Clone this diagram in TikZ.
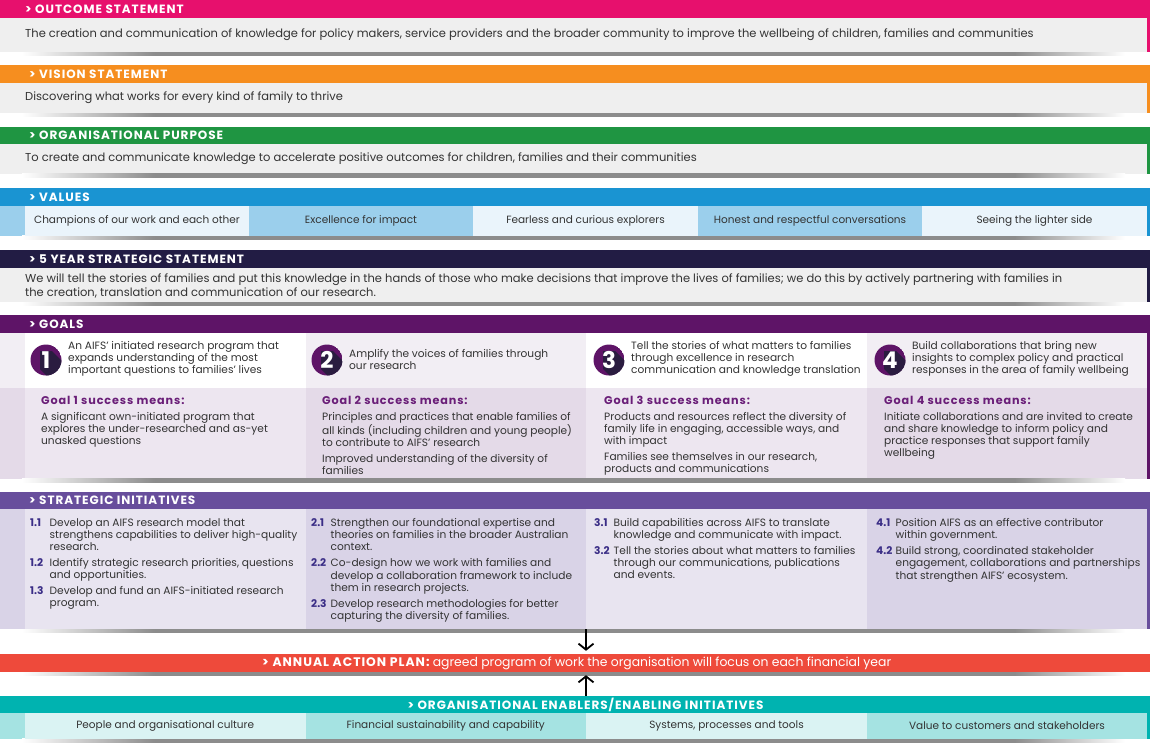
\documentclass[tikz,border=0pt]{standalone}
\usepackage{fontspec}
\setmainfont{Poppins}
\newfontfamily\hdrfont[LetterSpace=8]{Poppins}
\usetikzlibrary{positioning,arrows.meta}

\definecolor{outcomecol}{HTML}{E7106D}
\definecolor{visioncol}{HTML}{F68E1F}
\definecolor{purposecol}{HTML}{1F9542}
\definecolor{valuescol}{HTML}{1A94D2}
\definecolor{strategycol}{HTML}{221C44}
\definecolor{goalscol}{HTML}{5E1467}
\definecolor{initcol}{HTML}{684E9C}
\definecolor{plancol}{HTML}{EE4A3B}
\definecolor{enablecol}{HTML}{00B3B0}
\definecolor{boxgray}{HTML}{EFEFEF}
\definecolor{valdark}{HTML}{9BCFEC}
\definecolor{valpale}{HTML}{EAF4FB}
\definecolor{goaltop}{HTML}{F2EEF4}
\definecolor{goalmid}{HTML}{E4DAE8}
\definecolor{goalpale}{HTML}{EDE6F0}
\definecolor{initdark}{HTML}{D9D3E7}
\definecolor{initpale}{HTML}{E8E4F0}
\definecolor{enbmid}{HTML}{A5E3E2}
\definecolor{enbpale}{HTML}{DAF3F3}
\definecolor{txtgray}{HTML}{333333}
\definecolor{numblue}{HTML}{3A2D86}
\definecolor{succpurple}{HTML}{6A1E78}
\definecolor{badgeshade}{HTML}{2A1C40}

\pgfdeclarehorizontalshading{boxshadow}{100bp}{color(0bp)=(white); color(25bp)=(white);
  color(31bp)=(black!45); color(70bp)=(black!45); color(75bp)=(white); color(100bp)=(white)}

\newcommand{\bodyfont}{\fontsize{11.5}{14}\selectfont}
\newcommand{\smallfont}{\fontsize{10.6}{12}\selectfont}
\newcommand{\sinum}[1]{\makebox[19.5pt][l]{\textcolor{numblue}{\bfseries #1}}}
\newcommand{\siindent}{\hspace*{19.5pt}}
\newcommand{\succhead}[1]{\textcolor{succpurple}{\hdrfont\bfseries\fontsize{11.2}{12}\selectfont #1}}

\begin{document}
\begin{tikzpicture}[x=1pt,y=-1pt,
        hdr/.style={anchor=west, inner sep=0pt, text=white,
                    font=\hdrfont\bfseries\fontsize{12}{14}\selectfont},
        body/.style={anchor=west, inner sep=0pt, text=txtgray, font=\bodyfont},
        goaltext/.style={anchor=west, inner sep=0pt, text=txtgray, align=left, font=\smallfont},
        success/.style={anchor=north west, inner sep=0pt, text=txtgray, align=left, font=\smallfont},
        initlist/.style={anchor=north west, inner sep=0pt, text=txtgray, align=left,
                         font=\fontsize{10.6}{12.3}\selectfont},
        cell/.style={inner sep=0pt, text=txtgray, font=\fontsize{10.5}{12}\selectfont},
        badgenum/.style={inner sep=0pt, text=white, font=\bfseries\fontsize{23}{23}\selectfont},
        arrow/.style={-{Straight Barb[length=6pt,width=15pt]}, line width=1.8pt, shorten >=3pt}
    ]
    \useasboundingbox (0,0) rectangle (1150,747);

    % Outcome statement
    \fill[outcomecol] (0,0) rectangle (1149.5,52);
    \fill[boxgray] (0,18) rectangle (1147,52);
    \shade[shading=boxshadow] (22,52) rectangle (1125,55.5);
    \node[hdr] (outhdr) at (25,9) {> OUTCOME STATEMENT};
    \node[body] (outtxt) at (25,35) {The creation and communication of knowledge for policy makers, service providers and the broader community to improve the wellbeing of children, families and communities};

    % Vision statement
    \fill[visioncol] (0,65) rectangle (1149.5,113);
    \fill[boxgray] (0,83) rectangle (1147,113);
    \shade[shading=boxshadow] (22,113) rectangle (1125,116.5);
    \node[hdr] (vishdr) at (29,74) {> VISION STATEMENT};
    \node[body] (vistxt) at (25,98) {Discovering what works for every kind of family to thrive};

    % Organisational purpose
    \fill[purposecol] (0,126.5) rectangle (1149.5,173.5);
    \fill[boxgray] (0,144) rectangle (1147,173.5);
    \shade[shading=boxshadow] (22,173.5) rectangle (1125,177);
    \node[hdr] (purhdr) at (29,135.5) {> ORGANISATIONAL PURPOSE};
    \node[body] (purtxt) at (25,159) {To create and communicate knowledge to accelerate positive outcomes for children, families and their communities};

    % Values
    \fill[valuescol] (0,188) rectangle (1149.5,235.5);
    \fill[valdark] (0,205.5) rectangle (1147,235.5);
    \shade[shading=boxshadow] (22,235.5) rectangle (1125,239);
    \node[hdr] (valhdr) at (29,197) {> VALUES};
    \node[cell, fill=valpale, minimum width=224, minimum height=30] (val1) at (137,220.5) {Champions of our work and each other};
    \node[cell, fill=valdark, minimum width=224, minimum height=30] (val2) at (361,220.5) {Excellence for impact};
    \node[cell, fill=valpale, minimum width=225, minimum height=30] (val3) at (585.5,220.5) {Fearless and curious explorers};
    \node[cell, fill=valdark, minimum width=224, minimum height=30] (val4) at (810,220.5) {Honest and respectful conversations};
    \node[cell, fill=valpale, minimum width=225, minimum height=30] (val5) at (1034.5,220.5) {Seeing the lighter side};

    % 5 year strategic statement
    \fill[strategycol] (0,249.5) rectangle (1149.5,302);
    \fill[boxgray] (0,268) rectangle (1147,302);
    \shade[shading=boxshadow] (22,302) rectangle (1125,305.5);
    \node[hdr] (strhdr) at (29,259) {> 5 YEAR STRATEGIC STATEMENT};
    \node[body, align=left] (strtxt) at (25,285.5) {We will tell the stories of families and put this knowledge in the hands of those who make decisions that improve the lives of families; we do this by actively partnering with families in\\the creation, translation and communication of our research.};

    % Goals
    \fill[goalscol] (0,315) rectangle (1149.5,478.5);
    \fill[goaltop] (0,333) rectangle (1147,388);
    \fill[white] (25,333) rectangle (305.5,388);
    \fill[white] (586,333) rectangle (867,388);
    \fill[goalmid] (0,388) rectangle (1147,478.5);
    \fill[goalpale] (25,388) rectangle (305.5,478.5);
    \fill[goalpale] (586,388) rectangle (867,478.5);
    \shade[shading=boxshadow] (22,478.5) rectangle (1125,482);
    \node[hdr] (goalhdr) at (29,324) {> GOALS};

    % Numbered badges
    \begin{scope}
        \clip (46,360) circle[radius=15.5];
        \fill[goalscol] (46,360) circle[radius=15.5];
        \fill[badgeshade] (40,351) -- (52,351) -- (82,381) -- (82,399) -- (70,399) -- (40,369) -- cycle;
    \end{scope}
    \node[badgenum] (badge1) at (46,360) {1};
    \begin{scope}
        \clip (327,360) circle[radius=15.5];
        \fill[goalscol] (327,360) circle[radius=15.5];
        \fill[badgeshade] (321,351) -- (333,351) -- (363,381) -- (363,399) -- (351,399) -- (321,369) -- cycle;
    \end{scope}
    \node[badgenum] (badge2) at (327,360) {2};
    \begin{scope}
        \clip (609,360) circle[radius=15.5];
        \fill[goalscol] (609,360) circle[radius=15.5];
        \fill[badgeshade] (603,351) -- (615,351) -- (645,381) -- (645,399) -- (633,399) -- (603,369) -- cycle;
    \end{scope}
    \node[badgenum] (badge3) at (609,360) {3};
    \begin{scope}
        \clip (890,360) circle[radius=15.5];
        \fill[goalscol] (890,360) circle[radius=15.5];
        \fill[badgeshade] (884,351) -- (896,351) -- (926,381) -- (926,399) -- (914,399) -- (884,369) -- cycle;
    \end{scope}
    \node[badgenum] (badge4) at (890,360) {4};

    % Goal statements
    \node[goaltext] (goal1) at (68,358.5) {An AIFS’ initiated research program that\\expands understanding of the most\\important questions to families’ lives};
    \node[goaltext] (goal2) at (349,359) {Amplify the voices of families through\\our research};
    \node[goaltext] (goal3) at (631,359) {Tell the stories of what matters to families\\through excellence in research\\communication and knowledge translation};
    \node[goaltext] (goal4) at (912,359) {Build collaborations that bring new\\insights to complex policy and practical\\responses in the area of family wellbeing};

    % Success measures
    \node[success] (succ1) at (41,396) {\succhead{Goal 1 success means:}\\[4pt]A significant own-initiated program that\\explores the under-researched and as-yet\\unasked questions};
    \node[success] (succ2) at (322,396) {\succhead{Goal 2 success means:}\\[4pt]Principles and practices that enable families of\\all kinds (including children and young people)\\to contribute to AIFS’ research\\[4pt]Improved understanding of the diversity of\\families};
    \node[success] (succ3) at (604,396) {\succhead{Goal 3 success means:}\\[4pt]Products and resources reflect the diversity of\\family life in engaging, accessible ways, and\\with impact\\[4pt]Families see themselves in our research,\\products and communications};
    \node[success] (succ4) at (884,396) {\succhead{Goal 4 success means:}\\[4pt]Initiate collaborations and are invited to create\\and share knowledge to inform policy and\\practice responses that support family\\wellbeing};

    % Strategic initiatives
    \fill[initcol] (0,491.5) rectangle (1149.5,629);
    \fill[initdark] (0,509) rectangle (1147,629);
    \fill[initpale] (25,509) rectangle (305.5,629);
    \fill[initpale] (586,509) rectangle (867,629);
    \shade[shading=boxshadow] (22,629) rectangle (1125,632.5);
    \node[hdr] (inithdr) at (29,500) {> STRATEGIC INITIATIVES};
    \node[initlist] (init1) at (30,518) {\sinum{1.1}Develop an AIFS research model that\\\siindent strengthens capabilities to deliver high-quality\\\siindent research.\\[3.5pt]\sinum{1.2}Identify strategic research priorities, questions\\\siindent and opportunities.\\[3.5pt]\sinum{1.3}Develop and fund an AIFS-initiated research\\\siindent program.};
    \node[initlist] (init2) at (311,518) {\sinum{2.1}Strengthen our foundational expertise and\\\siindent theories on families in the broader Australian\\\siindent context.\\[3.5pt]\sinum{2.2}Co-design how we work with families and\\\siindent develop a collaboration framework to include\\\siindent them in research projects.\\[3.5pt]\sinum{2.3}Develop research methodologies for better\\\siindent capturing the diversity of families.};
    \node[initlist] (init3) at (594,518) {\sinum{3.1}Build capabilities across AIFS to translate\\\siindent knowledge and communicate with impact.\\[3.5pt]\sinum{3.2}Tell the stories about what matters to families\\\siindent through our communications, publications\\\siindent and events.};
    \node[initlist] (init4) at (876,518) {\sinum{4.1}Position AIFS as an effective contributor\\\siindent within government.\\[3.5pt]\sinum{4.2}Build strong, coordinated stakeholder\\\siindent engagement, collaborations and partnerships\\\siindent that strengthen AIFS’ ecosystem.};

    % Annual action plan
    \node[fill=plancol, inner sep=0pt, minimum width=1149.5, minimum height=18] (plan) at (574.75,663) {};
    \shade[shading=boxshadow] (22,672) rectangle (1125,675);
    \node[anchor=west, inner sep=0pt, text=white, font=\fontsize{12.4}{14}\selectfont] (plantxt) at (262,663) {{\hdrfont\bfseries > ANNUAL ACTION PLAN:} agreed program of work the organisation will focus on each financial year};

    % Organisational enablers
    \fill[enablecol] (0,695.5) rectangle (1149.5,738.5);
    \fill[enbmid] (0,713) rectangle (1147,738.5);
    \shade[shading=boxshadow] (22,738.5) rectangle (1125,742);
    \node[hdr, anchor=center] (enbhdr) at (585.5,704.5) {> ORGANISATIONAL ENABLERS/ENABLING INITIATIVES};
    \node[cell, fill=enbpale, minimum width=280.5, minimum height=25.5] (enb1) at (165.25,725.75) {People and organisational culture};
    \node[cell, fill=enbmid, minimum width=280.5, minimum height=25.5] (enb2) at (445.75,725.75) {Financial sustainability and capability};
    \node[cell, fill=enbpale, minimum width=281, minimum height=25.5] (enb3) at (726.5,725.75) {Systems, processes and tools};
    \node[cell, fill=enbmid, minimum width=280, minimum height=25.5] (enb4) at (1007,725.75) {Value to customers and stakeholders};

    % Arrows into the action plan
    \coordinate (initend) at (586,629);
    \coordinate (enbtop) at (586,695.5);
    \draw[arrow] (initend) -- (initend |- plan.north);
    \draw[arrow] (enbtop) -- (enbtop |- plan.south);

\end{tikzpicture}
\end{document}
